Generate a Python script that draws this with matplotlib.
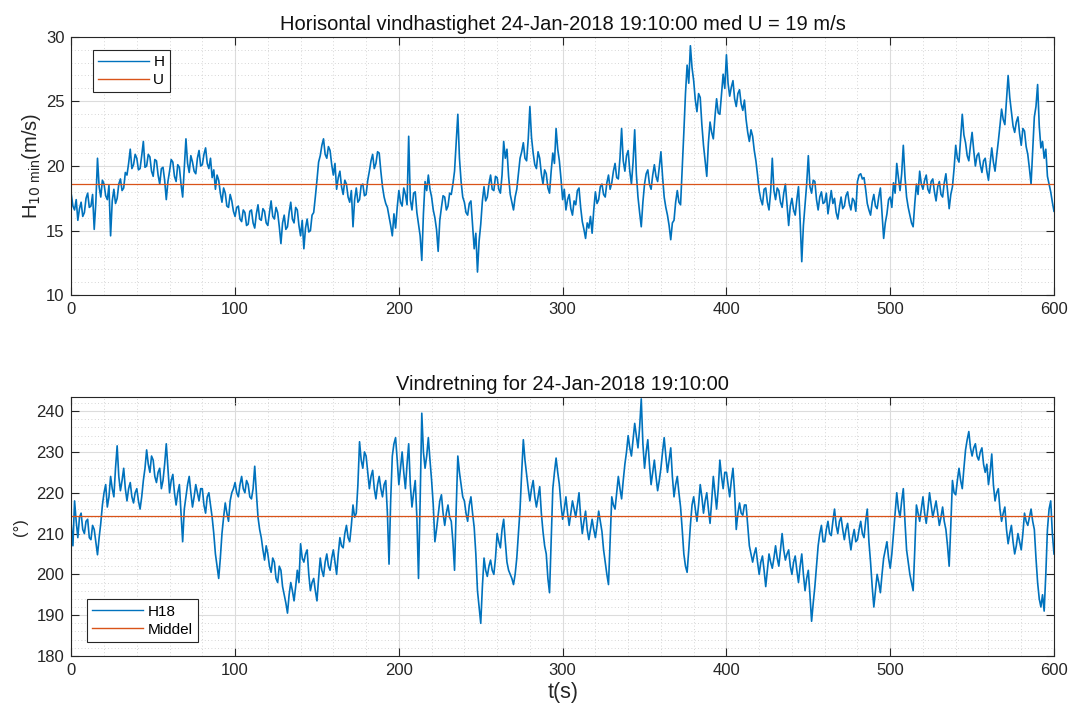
import numpy as np
import matplotlib.pyplot as plt
from matplotlib.ticker import MultipleLocator

plt.rcParams['font.family'] = ['Liberation Sans', 'DejaVu Sans']

# Sample times (s), 1 s resolution
t = np.arange(0, 601, 1)

# Horizontal wind speed H (m/s)
H = [
    17.8, 16.9, 16.6, 17.4, 15.8, 16.7, 17.2, 16.1, 16.4, 17.5, 17.9, 16.8, 16.9, 17.8, 15.1, 17.2, 20.6, 18.4, 17.6, 18.9,
    18.6, 17.7, 17.4, 18.5, 14.6, 17.3, 18.2, 17.1, 17.5, 18.6, 19.0, 18.1, 18.3, 19.5, 19.3, 20.2, 21.3, 19.8, 20.1, 20.9,
    20.6, 19.7, 19.8, 20.8, 21.9, 19.9, 20.0, 20.9, 20.7, 19.6, 19.2, 20.5, 20.4, 19.3, 18.6, 19.8, 19.9, 18.9, 17.4, 18.8,
    19.6, 20.5, 20.3, 19.2, 18.8, 20.1, 19.9, 18.6, 17.6, 19.8, 22.1, 20.2, 19.5, 20.8, 20.3, 19.6, 19.4, 20.6, 21.2, 20.0,
    20.1, 20.9, 21.4, 20.2, 19.8, 20.6, 19.1, 19.7, 18.2, 19.3, 18.9, 17.9, 17.2, 18.3, 17.9, 16.9, 16.8, 17.8, 17.3, 16.5,
    16.1, 16.8, 16.9, 15.9, 15.7, 16.6, 16.4, 15.4, 15.5, 16.5, 16.6, 15.6, 15.2, 16.3, 17.0, 15.9, 15.8, 16.7, 16.5, 15.6,
    15.4, 16.4, 17.3, 16.1, 15.9, 16.8, 16.4, 15.3, 14.0, 15.6, 16.2, 15.1, 15.3, 16.4, 17.2, 15.9, 15.6, 16.8, 16.6, 15.4,
    14.6, 15.8, 13.6, 15.2, 15.9, 14.9, 15.0, 16.2, 16.4, 17.6, 18.9, 20.3, 20.8, 21.6, 22.1, 20.9, 20.6, 21.5, 21.2, 20.1,
    19.3, 20.2, 18.2, 19.1, 19.6, 18.4, 17.8, 18.9, 18.6, 17.6, 17.2, 18.1, 15.3, 17.4, 18.3, 17.2, 17.4, 18.5, 18.6, 17.7,
    17.8, 18.9, 19.6, 20.4, 20.9, 19.8, 20.2, 21.1, 21.0, 19.6, 18.4, 17.6, 17.1, 16.8, 16.1, 15.4, 14.6, 16.3, 15.2, 16.8,
    18.1, 17.2, 16.9, 18.3, 17.8, 17.0, 22.3, 17.4, 16.6, 17.9, 18.0, 16.4, 15.5, 14.6, 12.7, 16.3, 18.8, 18.1, 19.3, 18.2,
    17.6, 16.6, 16.0, 15.1, 13.4, 15.8, 16.8, 17.7, 17.6, 16.6, 16.9, 17.9, 17.8, 18.6, 19.6, 21.8, 24.0, 20.6, 18.8, 17.6,
    17.2, 16.4, 16.2, 17.1, 17.3, 15.4, 13.6, 14.8, 11.8, 14.2, 15.5, 17.3, 18.4, 17.3, 17.6, 18.6, 19.3, 18.2, 18.1, 19.2,
    19.1, 18.2, 17.9, 19.3, 21.9, 20.6, 21.3, 19.2, 17.8, 17.2, 16.6, 17.6, 18.2, 19.4, 20.6, 21.1, 21.8, 20.6, 20.4, 22.1,
    24.6, 22.2, 21.0, 20.1, 19.8, 21.1, 20.6, 19.4, 18.6, 19.7, 19.4, 18.3, 17.9, 19.6, 21.0, 20.2, 22.9, 21.3, 20.4, 19.0,
    17.4, 18.2, 16.6, 17.4, 17.8, 16.7, 16.2, 17.3, 17.0, 18.1, 18.3, 16.8, 15.7, 15.1, 14.4, 15.6, 15.2, 16.1, 14.8, 16.6,
    18.0, 17.1, 17.4, 18.4, 18.6, 17.8, 17.6, 18.7, 19.3, 18.2, 18.7, 19.6, 20.2, 19.1, 19.0, 20.6, 22.9, 20.4, 19.6, 20.8,
    21.2, 19.6, 18.6, 20.3, 22.8, 19.4, 17.6, 16.4, 15.3, 17.2, 18.6, 19.4, 19.7, 18.6, 18.2, 19.3, 20.1, 19.2, 18.8, 19.9,
    21.1, 19.2, 17.6, 16.8, 16.2, 15.4, 14.3, 15.6, 15.8, 17.2, 18.1, 17.2, 17.0, 19.8, 22.6, 25.6, 27.8, 26.4, 29.3, 27.6,
    26.6, 25.1, 24.2, 25.6, 25.3, 23.2, 21.6, 20.4, 19.2, 21.8, 23.4, 22.6, 22.1, 23.8, 25.2, 24.1, 24.0, 25.6, 27.1, 26.0,
    28.6, 26.4, 25.4, 26.1, 26.6, 25.2, 24.6, 25.6, 25.9, 24.8, 24.3, 25.1, 23.6, 22.6, 21.9, 22.8, 22.3, 21.2, 20.4, 19.3,
    18.1, 17.4, 17.0, 18.2, 18.3, 17.2, 16.6, 18.0, 20.6, 18.1, 17.4, 18.3, 18.1, 17.2, 16.8, 17.9, 18.6, 17.0, 15.4, 16.9,
    17.5, 16.6, 16.2, 17.4, 18.4, 15.8, 12.6, 15.4, 17.0, 18.6, 20.8, 18.4, 17.9, 18.9, 18.8, 17.4, 16.6, 17.6, 18.0, 17.1,
    17.2, 17.9, 16.3, 17.2, 18.1, 17.1, 17.5, 16.4, 15.9, 16.8, 17.6, 16.7, 16.9, 17.7, 18.0, 17.1, 16.6, 17.5, 17.3, 16.5,
    18.8, 19.3, 19.4, 19.0, 19.1, 18.2, 17.1, 16.6, 16.2, 17.2, 17.8, 16.9, 16.7, 17.6, 18.3, 16.4, 14.4, 15.6, 16.3, 17.4,
    17.6, 16.8, 18.7, 17.9, 20.2, 19.1, 18.1, 19.4, 21.6, 19.2, 17.6, 16.8, 16.2, 15.6, 15.3, 17.1, 18.6, 17.8, 19.6, 18.6,
    18.2, 18.9, 19.3, 18.2, 17.9, 18.8, 19.0, 18.0, 17.3, 18.4, 18.8, 17.8, 17.6, 18.7, 19.4, 18.1, 16.7, 17.8, 18.4, 19.8,
    21.6, 20.6, 20.3, 22.1, 24.0, 22.4, 21.8, 20.8, 20.4, 21.6, 22.6, 21.2, 20.0, 20.8, 21.0, 20.1, 19.5, 20.4, 20.6, 19.6,
    18.9, 20.2, 21.4, 20.3, 19.6, 20.8, 21.9, 23.1, 24.4, 23.6, 23.2, 25.1, 27.0, 25.3, 24.2, 23.1, 22.6, 23.4, 23.8, 22.5,
    21.6, 22.9, 22.7, 21.5, 20.9, 19.8, 18.6, 21.2, 23.8, 24.6, 26.3, 23.1, 21.4, 21.9, 20.6, 21.3, 19.2, 18.6, 18.0, 17.2,
    16.5,
]
U = 18.6

# Wind direction at H18 (degrees)
D = [
    212, 207, 218, 213, 209, 214, 215, 211, 210, 213, 213.5, 209, 208.5, 212, 211, 208, 204.8, 209, 212.5, 217,
    220, 222, 216.5, 219, 224, 221, 219, 226, 231.5, 224, 220.5, 223, 226, 221, 218, 221, 222.5, 219, 217.5, 220,
    221, 218, 216, 219, 223, 226, 230.5, 227, 225, 229, 228, 224, 222.5, 225, 226, 221, 223, 227, 232, 226,
    220, 223, 224.5, 220, 217, 220, 222, 215, 208, 216, 219, 222, 224, 220, 216.5, 219, 222, 220, 218, 221,
    221, 217, 215, 219, 220, 217, 214, 210, 205, 202, 199, 204, 210, 214, 217.5, 215, 213, 218, 220, 221,
    222.5, 220, 219, 222, 224, 221, 220, 223, 222, 219, 218.5, 221, 226.5, 220, 214, 211, 209, 206, 203.5, 207,
    205, 202, 200.5, 204, 203, 199, 198, 202, 201, 197, 195, 193, 190.5, 195, 198, 196, 193.5, 197, 201, 198,
    207.5, 204, 203, 205, 206, 200, 196, 198, 199, 196, 193.5, 199, 204, 201, 199.5, 203, 205, 202, 201, 204,
    206, 203, 200, 205, 209, 207, 206.5, 210, 212, 209, 208, 212, 217, 214, 215, 222, 232.5, 228, 226, 230,
    229, 225, 221, 224, 225.5, 221, 218.5, 222, 224, 221, 219, 222, 223, 215, 202.5, 218, 229, 232, 233.5, 228,
    222, 226, 230, 225, 221, 227, 232, 222, 216.5, 220, 223, 214, 199, 218, 239.5, 230, 226, 229, 233.5, 228,
    223, 217, 208, 211, 214.5, 218, 219.5, 215, 212, 215, 217, 214, 213, 208, 201, 216, 229, 225, 222, 219,
    218, 215, 213, 217, 219, 215, 211.5, 205, 196, 192, 188, 197, 204, 201, 199.5, 202, 203.5, 201, 200, 204,
    210, 208, 206.5, 211, 213.5, 208, 203, 201, 200, 199, 197.5, 200, 204, 210, 216, 225, 233, 228, 224.5, 221,
    218, 221, 223, 219, 216.5, 219, 221.5, 215, 210.5, 207, 205, 199, 195.5, 208, 221, 225, 228.5, 225, 222, 217,
    213.5, 216, 219, 215, 212, 215, 218, 216, 214, 217, 220, 214, 210, 213, 215.5, 211, 208.5, 211, 213.5, 211,
    209, 212, 215.5, 213, 210.5, 206, 203, 200, 197.5, 208, 219, 217, 216, 220, 224, 221, 218.5, 223, 227, 230,
    234, 231, 229, 233, 237, 234, 231, 236, 243, 232, 226, 230, 233, 227, 222, 225, 228, 224, 220.5, 223,
    226, 230, 233.5, 229, 225, 228, 231, 224, 219, 222, 224, 220, 216.5, 211, 205, 202, 200.5, 206, 212, 217,
    219, 216, 213, 217, 222, 219, 215, 218, 220, 216, 212.5, 218, 224, 220, 216, 221, 228, 224, 221, 225,
    225, 222, 219, 223, 226, 220, 211, 215, 217.5, 215, 214.5, 217, 217, 212, 207, 205, 203, 205, 206.5, 203,
    200, 203, 204.5, 201, 197, 201, 205, 203, 201.5, 204, 207, 204, 202, 206, 210, 206, 203.5, 205, 206, 202,
    200, 203, 204.5, 201, 198, 202, 205, 200, 196, 199, 201, 195, 188.5, 193, 197, 202, 207, 210, 212, 208,
    208, 211, 213, 210, 209.5, 213, 216, 212, 210, 213, 214, 211, 208.5, 211, 212.5, 209, 206, 209, 211, 208,
    208.5, 211, 213, 210, 209, 213, 216, 208, 203, 197, 192, 196, 200, 198, 195.5, 200, 204, 206, 208, 204,
    201.5, 205, 210, 215, 220, 216, 214, 218, 221, 213, 206, 203, 200, 198, 196, 206, 217, 215, 213, 216,
    219, 215, 212.5, 216, 220, 217, 214, 216, 218, 215, 212, 214, 216.5, 213, 211, 207, 202, 212, 223, 220,
    219.5, 223, 226, 223, 221, 226, 230.5, 233, 235, 231, 229, 231, 232, 229, 228, 230, 231, 227, 225, 227,
    222, 225, 229.5, 222, 218, 220, 221, 216, 213, 215, 216.5, 211, 207.5, 210, 212, 208, 205, 207, 210, 208,
    206, 210, 215, 213, 212, 214, 216, 213, 211, 204, 198, 194, 192, 195, 191, 200, 211, 216, 218, 210,
    205,
]
MIDDEL = 214.4

BLUE = '#0072BD'
ORANGE = '#D95319'
INK = '#262626'

fig = plt.figure(figsize=(10.72, 7.18), dpi=100)
ax1 = fig.add_axes([0.0665, 0.5887, 0.9167, 0.3602])
ax2 = fig.add_axes([0.0665, 0.0864, 0.9167, 0.3603])


def style(ax, ymajor, yminor):
    ax.set_xlim(0, 600)
    ax.xaxis.set_major_locator(MultipleLocator(100))
    ax.xaxis.set_minor_locator(MultipleLocator(20))
    ax.yaxis.set_major_locator(MultipleLocator(ymajor))
    ax.yaxis.set_minor_locator(MultipleLocator(yminor))
    ax.grid(True, which='major', color='#dcdcdc', linewidth=0.8)
    ax.grid(True, which='minor', color='#c8c8c8', linewidth=0.6, linestyle=(0, (1, 3)))
    ax.set_axisbelow(True)
    ax.tick_params(which='major', direction='in', length=6, width=0.8,
                   top=True, right=True, colors=INK, labelsize=12, pad=5)
    ax.tick_params(which='minor', length=0, top=True, right=True)
    for s in ax.spines.values():
        s.set_color(INK)
        s.set_linewidth(0.8)


def add_legend(ax, loc, anchor):
    leg = ax.legend(loc=loc, bbox_to_anchor=anchor, borderaxespad=0, fancybox=False,
                    edgecolor=INK, fontsize=11, handlelength=3.3, handletextpad=0.3,
                    borderpad=0.35, labelspacing=0.25, framealpha=1)
    leg.get_frame().set_linewidth(0.8)
    for line in leg.get_lines():
        line.set_linewidth(1.0)


ax1.plot(t, H, color=BLUE, linewidth=1.2, label='H')
ax1.axhline(U, color=ORANGE, linewidth=0.9, label='U')
ax1.set_ylim(10, 30)
style(ax1, 5, 1)
ax1.set_title('Horisontal vindhastighet 24-Jan-2018 19:10:00 med U = 19 m/s',
              fontsize=14.5, color='#111111', pad=5)
ax1.set_ylabel(r'H$_{10\;\mathregular{min}}$(m/s)', fontsize=14.5, color=INK, labelpad=2)
add_legend(ax1, 'upper left', (0.022, 0.949))

ax2.plot(t, D, color=BLUE, linewidth=1.2, label='H18')
ax2.axhline(MIDDEL, color=ORANGE, linewidth=0.9, label='Middel')
ax2.set_ylim(180, 243.4)
style(ax2, 10, 2)
ax2.set_title('Vindretning for 24-Jan-2018 19:10:00', fontsize=14.5, color='#111111', pad=5)
ax2.set_ylabel('(°)', fontsize=12, color=INK, labelpad=6)
ax2.set_xlabel('t(s)', fontsize=15.5, color=INK, labelpad=3)
add_legend(ax2, 'lower left', (0.016, 0.054))

fig.savefig('out.png', dpi=100, facecolor='white')
